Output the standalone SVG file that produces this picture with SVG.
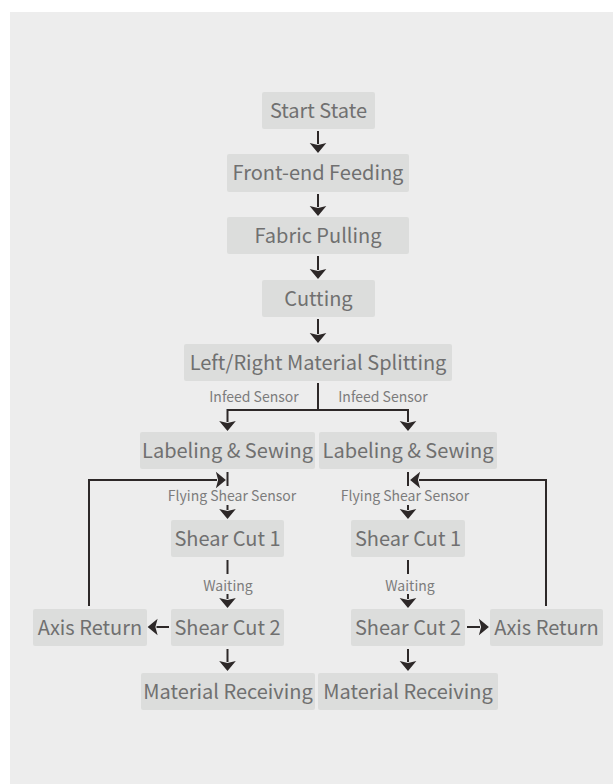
<svg xmlns="http://www.w3.org/2000/svg" width="613" height="784" viewBox="0 0 613 784">
  <style>
    .node rect { fill: #dcdddc; }
    .node text { font-family: "Noto Sans CJK SC", "Noto Sans", sans-serif; font-size: 20px; fill: #707070; text-anchor: middle; }
    .lbl { font-family: "Noto Sans CJK SC", "Noto Sans", sans-serif; font-size: 14px; fill: #7c7c7c; text-anchor: middle; }
    .wire { fill: none; stroke: #2d2828; stroke-width: 2; }
    .arr { marker-end: url(#head); }
  </style>
  <defs>
    <marker id="head" markerUnits="userSpaceOnUse" markerWidth="20" markerHeight="20" viewBox="-2 -9 12 18" refX="0" refY="0" orient="auto">
      <path d="M-1,-7.5 L8,0 L-1,7.5 L1,0 Z" fill="#2d2828"/>
    </marker>
  </defs>

  <!-- backdrop -->
  <rect x="0" y="0" width="613" height="784" fill="#ffffff"/>
  <rect x="10" y="12" width="603" height="772" fill="#ededed"/>

  <!-- main line -->
  <g id="start" class="node"><rect x="262" y="92" width="113" height="37" rx="2"/><text x="318.5" y="117.5">Start State</text></g>
  <g id="feeding" class="node"><rect x="227" y="154" width="182" height="38" rx="2"/><text x="318" y="180">Front-end Feeding</text></g>
  <g id="pulling" class="node"><rect x="227" y="217" width="182" height="37" rx="2"/><text x="318" y="242.5">Fabric Pulling</text></g>
  <g id="cutting" class="node"><rect x="262" y="280" width="113" height="37" rx="2"/><text x="318.5" y="305.5">Cutting</text></g>
  <g id="splitting" class="node"><rect x="184" y="344" width="268" height="37" rx="2"/><text x="318" y="369.5">Left/Right Material Splitting</text></g>

  <!-- left branch -->
  <g id="sew-left" class="node"><rect x="140" y="432" width="175" height="37" rx="2"/><text x="227.5" y="457.5">Labeling &amp; Sewing</text></g>
  <g id="cut1-left" class="node"><rect x="171" y="520" width="113" height="37" rx="2"/><text x="227.5" y="545.5">Shear Cut 1</text></g>
  <g id="cut2-left" class="node"><rect x="171" y="609" width="113" height="37" rx="2"/><text x="227.5" y="634.5">Shear Cut 2</text></g>
  <g id="axis-left" class="node"><rect x="33" y="609" width="114" height="37" rx="2"/><text x="90" y="634.5">Axis Return</text></g>
  <g id="recv-left" class="node"><rect x="141" y="673" width="174" height="37" rx="2"/><text x="228" y="698.5">Material Receiving</text></g>

  <!-- right branch -->
  <g id="sew-right" class="node"><rect x="319" y="432" width="178" height="37" rx="2"/><text x="408" y="457.5">Labeling &amp; Sewing</text></g>
  <g id="cut1-right" class="node"><rect x="351" y="520" width="114" height="37" rx="2"/><text x="408" y="545.5">Shear Cut 1</text></g>
  <g id="cut2-right" class="node"><rect x="351" y="609" width="114" height="37" rx="2"/><text x="408" y="634.5">Shear Cut 2</text></g>
  <g id="axis-right" class="node"><rect x="490" y="609" width="113" height="37" rx="2"/><text x="546.5" y="634.5">Axis Return</text></g>
  <g id="recv-right" class="node"><rect x="318" y="673" width="180" height="37" rx="2"/><text x="408" y="698.5">Material Receiving</text></g>

  <!-- connectors -->
  <g id="connectors">
    <path class="wire arr" d="M318,131 V144"/>
    <path class="wire arr" d="M318,194 V207"/>
    <path class="wire arr" d="M318,256 V270"/>
    <path class="wire arr" d="M318,319 V334"/>
    <path class="wire" d="M318,383 V410 M227,410 H409"/>
    <path class="wire arr" d="M227.5,409 V422"/>
    <path class="wire arr" d="M408,409 V422"/>

    <!-- sensor ticks and return loops -->
    <path class="wire" d="M227.5,472 V486"/>
    <path class="wire" d="M408,472 V486"/>
    <path class="wire arr" d="M89,606 V480 H217"/>
    <path class="wire arr" d="M546,606 V480 H419"/>

    <path class="wire arr" d="M227.5,505 V510"/>
    <path class="wire arr" d="M408,505 V510"/>

    <path class="wire" d="M227.5,560 V574"/>
    <path class="wire" d="M408,560 V574"/>
    <path class="wire arr" d="M227.5,594 V599"/>
    <path class="wire arr" d="M408,594 V599"/>

    <path class="wire arr" d="M169,627 H156.5"/>
    <path class="wire arr" d="M467,627 H480"/>

    <path class="wire arr" d="M227.5,649 V662"/>
    <path class="wire arr" d="M408,649 V662"/>
  </g>

  <!-- edge labels -->
  <g id="labels">
    <text class="lbl" x="254" y="402">Infeed Sensor</text>
    <text class="lbl" x="383" y="402">Infeed Sensor</text>
    <text class="lbl" x="232" y="501">Flying Shear Sensor</text>
    <text class="lbl" x="405" y="501">Flying Shear Sensor</text>
    <text class="lbl" x="228" y="591">Waiting</text>
    <text class="lbl" x="410" y="591">Waiting</text>
  </g>
</svg>
